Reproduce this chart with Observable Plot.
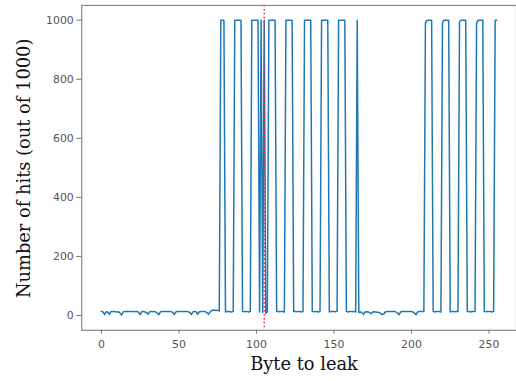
<!DOCTYPE html>
<html>
<head>
<meta charset="utf-8">
<script src="https://cdn.jsdelivr.net/npm/d3@7"></script>
<script src="https://cdn.jsdelivr.net/npm/@observablehq/plot@0.6"></script>
<style>
  html, body { margin: 0; padding: 0; background: #fff; overflow: hidden; width: 516px; height: 381px; }
  #chart { width: 516px; height: 381px; overflow: hidden; }
</style>
</head>
<body>
<div id="chart"></div>
<script>
// Number of hits (out of 1000) for each byte value 0..255
const hits = [
  14,12,3,13,12,4,13,14,14,13,12,13,8,2,12,14,
  14,14,14,14,14,14,13,14,10,3,13,14,12,10,4,12,
  14,13,14,12,8,3,12,14,14,14,14,14,14,13,10,3,
  12,14,14,14,14,14,14,14,13,10,3,12,14,13,4,12,
  14,14,14,13,10,4,12,17,18,18,18,17,16,1000,1000,1000,
  12,14,14,13,12,14,1000,1000,1000,1000,1000,14,13,14,14,12,
  14,1000,1000,1000,1000,1000,12,1000,10,1000,8,12,1000,1000,1000,1000,
  1000,14,14,13,14,14,12,1000,1000,1000,1000,1000,14,14,13,14,
  14,12,14,1000,1000,1000,1000,1000,14,13,14,14,12,14,1000,1000,
  1000,1000,1000,12,14,14,14,13,14,1000,1000,1000,1000,1000,14,12,
  14,14,13,14,12,1000,10,12,10,4,12,13,12,10,6,12,
  13,12,11,10,8,3,4,12,13,14,14,14,14,14,12,8,
  3,12,14,14,14,14,14,14,14,12,8,3,12,14,14,14,
  14,990,1000,1000,1000,1000,14,12,14,14,14,12,992,1000,1000,1000,
  1000,12,14,14,13,14,14,995,1000,1000,1000,1000,14,14,12,14,
  14,14,990,1000,1000,1000,1000,14,13,14,14,14,12,14,1000,1000
];
const bytes = hits.map((_, i) => i);
const secretByte = [105];
const xTicks = [0, 50, 100, 150, 200, 250];
const yTicks = [0, 200, 400, 600, 800, 1000];
const xLabel = "Byte to leak";
const yLabel = "Number of hits (out of 1000)";

const data = bytes.map((b, i) => ({byte: b, hits: hits[i]}));

const W = 521, H = 381;
const chart = Plot.plot({
  width: W,
  height: H,
  marginLeft: 82,
  marginRight: 0,
  marginTop: 5,
  marginBottom: 48,
  style: {fontFamily: "DejaVu Sans", fontSize: "11px", color: "#555", background: "#fff", overflow: "hidden"},
  x: {domain: [-12.75, 267.75]},
  y: {domain: [-50, 1050]},
  marks: [
    Plot.line(data, {x: "byte", y: "hits", stroke: "#1f77b4", strokeWidth: 1.5}),
    Plot.ruleX(secretByte, {stroke: "#e8262b", strokeWidth: 1.5, strokeDasharray: "1.5,2.5"}),
    Plot.frame({stroke: "#888", strokeWidth: 1.2}),
    Plot.axisX({ticks: xTicks, tickFormat: d => String(d), tickSize: 4, tickPadding: 6, label: null, stroke: "#777"}),
    Plot.axisY({ticks: yTicks, tickFormat: d => String(d), tickSize: 5, tickPadding: 3, label: null, stroke: "#777"})
  ]
});

const svg = d3.select(chart);
svg.append("text")
  .attr("x", 307)
  .attr("y", 374)
  .attr("text-anchor", "middle")
  .style("font-family", "'DejaVu Serif', serif")
  .style("font-size", "18px")
  .style("fill", "#111")
  .text(xLabel);
svg.append("text")
  .attr("transform", "translate(30,170) rotate(-90)")
  .attr("text-anchor", "middle")
  .style("font-family", "'DejaVu Serif', serif")
  .style("font-size", "18px")
  .style("fill", "#111")
  .text(yLabel);

document.getElementById("chart").appendChild(chart);
</script>
</body>
</html>
